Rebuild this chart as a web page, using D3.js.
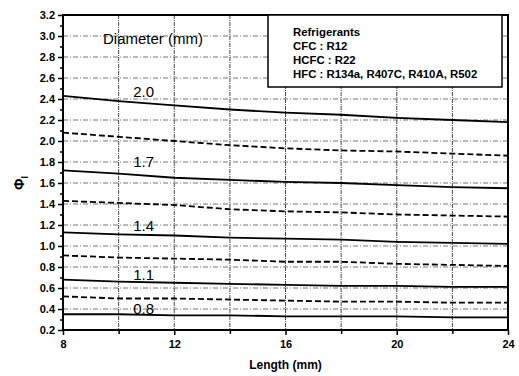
<!DOCTYPE html>
<html><head><meta charset="utf-8">
<script src="https://cdn.jsdelivr.net/npm/d3@7"></script>
<style>body{margin:0;background:#fff}svg{display:block}text{font-family:Arial,"Liberation Sans",sans-serif}</style>
</head><body>
<svg id="c" width="519" height="376"></svg>
<script>
const lengths = [8, 10, 12, 14, 16, 18, 20, 22, 24];
const d20 = [2.43, 2.38, 2.34, 2.30, 2.27, 2.25, 2.22, 2.20, 2.18];
const dash1 = [2.08, 2.04, 2.00, 1.96, 1.93, 1.91, 1.90, 1.88, 1.86];
const d17 = [1.72, 1.69, 1.65, 1.63, 1.61, 1.60, 1.58, 1.56, 1.55];
const dash2 = [1.43, 1.41, 1.39, 1.35, 1.33, 1.32, 1.30, 1.29, 1.28];
const d14 = [1.13, 1.11, 1.10, 1.08, 1.07, 1.06, 1.04, 1.03, 1.02];
const dash3 = [0.91, 0.89, 0.88, 0.87, 0.85, 0.85, 0.83, 0.82, 0.81];
const d11 = [0.68, 0.66, 0.65, 0.64, 0.63, 0.62, 0.62, 0.61, 0.61];
const dash4 = [0.52, 0.50, 0.50, 0.49, 0.48, 0.47, 0.47, 0.46, 0.46];
const d08 = [0.35, 0.35, 0.34, 0.34, 0.33, 0.33, 0.33, 0.32, 0.32];
const solidSeries = [d20, d17, d14, d11, d08];
const dashedSeries = [dash1, dash2, dash3, dash4];
const diameterLabels = ["2.0", "1.7", "1.4", "1.1", "0.8"];
const labelValues = [2.42, 1.75, 1.14, 0.68, 0.35];
const xTicks = [8, 12, 16, 20, 24];
const yTicks = [0.2,0.4,0.6,0.8,1.0,1.2,1.4,1.6,1.8,2.0,2.2,2.4,2.6,2.8,3.0,3.2];
const legendLines = ["Refrigerants", "CFC : R12", "HCFC : R22", "HFC : R134a, R407C, R410A, R502"];

const L = 63, R = 508, T = 15, B = 330;
const svg = d3.select("#c");
const x = d3.scaleLinear().domain([8, 24]).range([L, R]);
const y = d3.scaleLinear().domain([0.2, 3.2]).range([B, T]);

// grid
const g = svg.append("g");
g.selectAll("line.v").data(d3.range(10, 24, 2)).join("line")
  .attr("x1", d => x(d)).attr("x2", d => x(d)).attr("y1", T).attr("y2", B)
  .attr("stroke", "#333").attr("stroke-width", 0.9).attr("stroke-dasharray", "4,1,1,1");
g.selectAll("line.h").data(yTicks.slice(1, -1)).join("line")
  .attr("x1", L).attr("x2", R).attr("y1", d => y(d)).attr("y2", d => y(d))
  .attr("stroke", "#666").attr("stroke-width", 0.9).attr("stroke-dasharray", "5,2,1,2");

// lines
const line = d3.line().x((d, i) => x(lengths[i])).y(d => y(d));
svg.selectAll("path.s").data(solidSeries).join("path")
  .attr("d", line).attr("fill", "none").attr("stroke", "#000").attr("stroke-width", 1.8);
svg.selectAll("path.d").data(dashedSeries).join("path")
  .attr("d", line).attr("fill", "none").attr("stroke", "#000").attr("stroke-width", 1.8)
  .attr("stroke-dasharray", "6,3");

// axes
const yAxis = d3.axisLeft(y).tickValues(yTicks).tickFormat(d3.format(".1f")).tickSize(5).tickPadding(3);
svg.append("g").attr("transform", `translate(${L},0)`).call(yAxis);
const yMinor = d3.axisLeft(y).tickValues(d3.range(0.3, 3.2, 0.2)).tickFormat("").tickSize(3);
svg.append("g").attr("transform", `translate(${L},0)`).call(yMinor);
const xAxis = d3.axisBottom(x).tickValues(xTicks).tickFormat(d3.format("d")).tickSize(5).tickPadding(5);
svg.append("g").attr("transform", `translate(0,${B})`).call(xAxis);
const xMinor = d3.axisBottom(x).tickValues([10, 14, 18, 22]).tickFormat("").tickSize(4);
svg.append("g").attr("transform", `translate(0,${B})`).call(xMinor);
svg.selectAll(".tick line").attr("stroke", "#000").attr("stroke-width", 1.5);
svg.selectAll(".domain").remove();
svg.selectAll(".tick text").attr("font-size", 11).attr("font-weight", "bold").attr("fill", "#000");

// frame
svg.append("rect").attr("x", L).attr("y", T).attr("width", R - L).attr("height", B - T)
  .attr("fill", "none").attr("stroke", "#000").attr("stroke-width", 2);

// diameter labels
svg.append("text").attr("x", 103).attr("y", 44).attr("font-size", 15).text("Diameter (mm)");
svg.selectAll("text.dl").data(diameterLabels).join("text")
  .attr("x", x(10.9)).attr("y", (d, i) => y(labelValues[i]))
  .attr("text-anchor", "middle").attr("font-size", 15).text(d => d);

// legend
svg.append("rect").attr("x", 268).attr("y", T).attr("width", 234).attr("height", 72)
  .attr("fill", "#fff").attr("stroke", "#000").attr("stroke-width", 1.5);
svg.selectAll("text.lg").data(legendLines).join("text")
  .attr("x", 293).attr("y", (d, i) => 36 + i * 14)
  .attr("font-size", 11.4).attr("font-weight", "bold").text(d => d);

// axis titles
svg.append("text").attr("x", x(16)).attr("y", 369).attr("text-anchor", "middle")
  .attr("font-size", 12).attr("font-weight", "bold").text("Length (mm)");
const yt = svg.append("text").attr("transform", "translate(24,183) rotate(-90)")
  .attr("text-anchor", "middle").attr("font-size", 14).attr("font-weight", "bold");
yt.append("tspan").text("Φ");
yt.append("tspan").attr("font-size", 9).attr("dy", 4).text("l");
</script>
</body></html>
